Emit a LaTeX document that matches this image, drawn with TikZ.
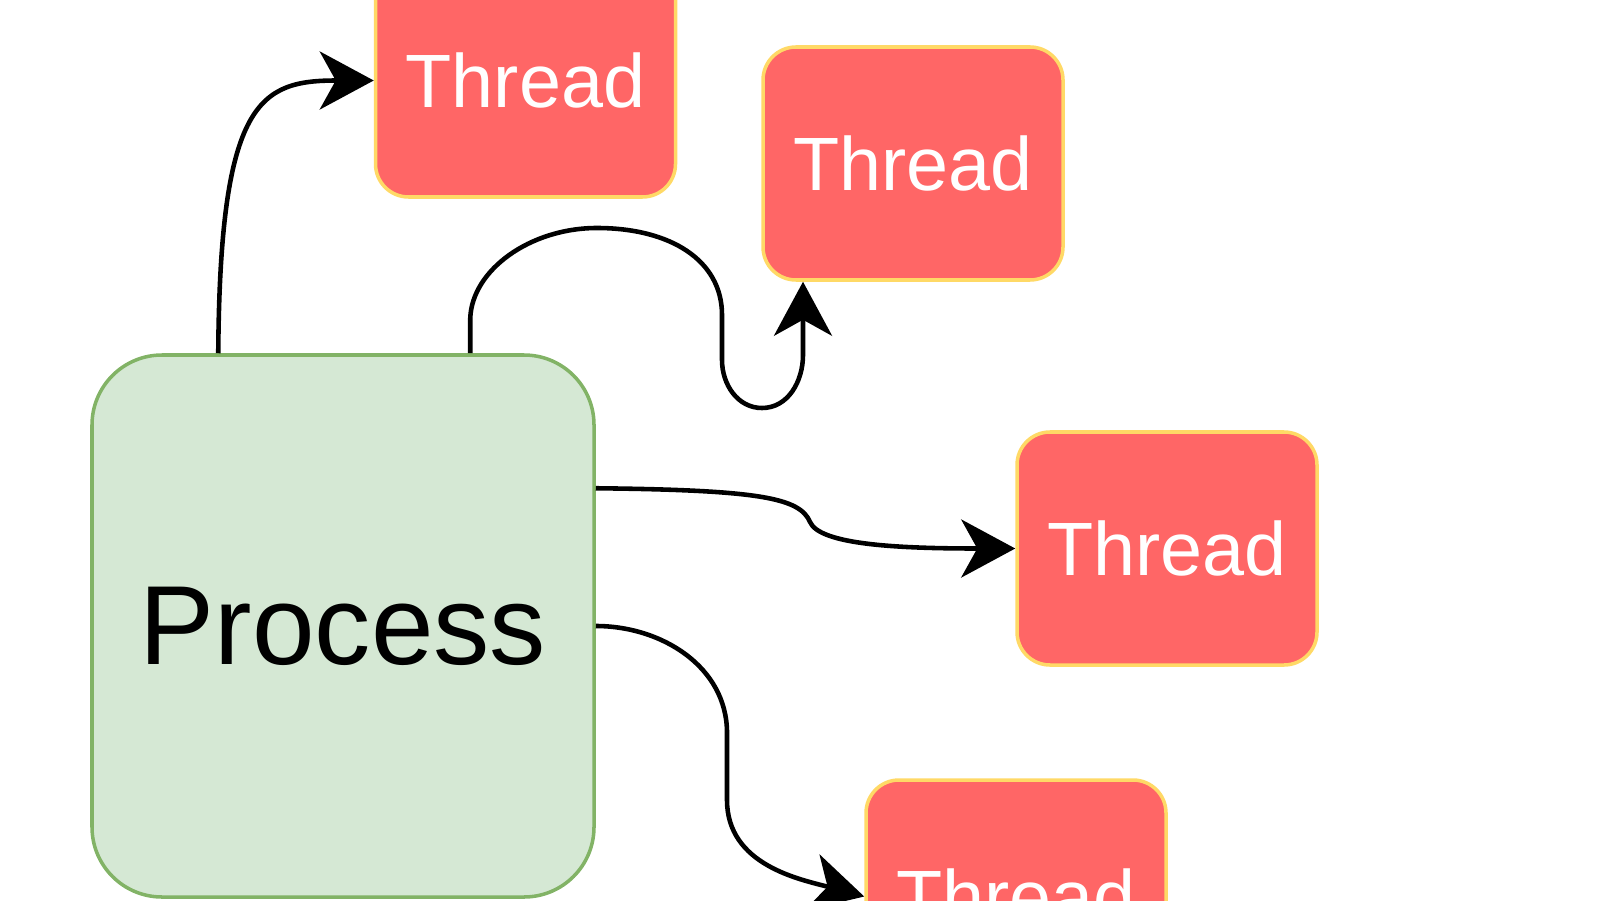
\documentclass[tikz,border=0pt]{standalone}
\usepackage{fontspec}
\setmainfont{Liberation Sans}
\usetikzlibrary{arrows.meta}
\definecolor{threadRed}{HTML}{FF6666}
\definecolor{threadEdge}{HTML}{FFD966}
\definecolor{processFill}{HTML}{D5E8D4}
\definecolor{processEdge}{HTML}{82B366}
\tikzset{
  process/.style={draw=processEdge, fill=processFill, line width=1pt, rounded corners=0.7cm,
    minimum width=5.02cm, minimum height=5.42cm, inner sep=0pt,
    font=\fontsize{32}{38}\selectfont},
  thread/.style={draw=threadEdge, fill=threadRed, line width=1pt, rounded corners=0.33cm,
    minimum width=3cm, minimum height=2.33cm, inner sep=0pt, text=white,
    font=\fontsize{21.5}{26}\selectfont},
  spawn/.style={line width=1.3pt, -{Stealth[length=0.54cm,width=0.58cm,inset=0.16cm]}}
}
\begin{document}
\begin{tikzpicture}
  \useasboundingbox (0,0) rectangle (16,9);
  \clip (0,0) rectangle (16,9);
  \node[process] (proc) at (3.43,2.74) {Process};
  \node[thread] (threadA) at (5.255,8.195) {Thread};
  \node[thread] (threadB) at (9.13,7.365) {Thread};
  \node[thread] (threadC) at (11.67,3.515) {Thread};
  \node[thread] (threadD) at (10.16,0.035) {Thread};

  \coordinate (outA) at ([xshift=1.28cm]proc.north west);
  \coordinate (outB) at ([xshift=3.8cm]proc.north west);
  \coordinate (outC) at ([yshift=-1.35cm]proc.north east);
  \coordinate (inB) at ([xshift=-1.1cm]threadB.south);

  \draw[spawn] (outA) .. controls (2.2,8.0) and (2.6,8.195) .. (threadA.west);
  \draw[spawn] (outB) -- ++(0,0.35) .. controls (4.72,6.3) and (5.3,6.72) .. (5.97,6.72)
    .. controls (6.7,6.72) and (7.22,6.4) .. (7.22,5.85)
    -- (7.22,5.4) to[out=-90,in=180] (7.62,4.92) to[out=0,in=-90] (8.03,5.45) -- (inB);
  \draw[spawn] (outC) .. controls (7.6,4.10) and (8.0,4.02) .. (8.1,3.78)
    .. controls (8.2,3.55) and (9.0,3.515) .. (threadC.west);
  \draw[spawn] (proc.east) to[out=0,in=90] (7.27,1.67) -- (7.27,1.0)
    to[out=-90,in=165] (threadD.west);
\end{tikzpicture}
\end{document}
